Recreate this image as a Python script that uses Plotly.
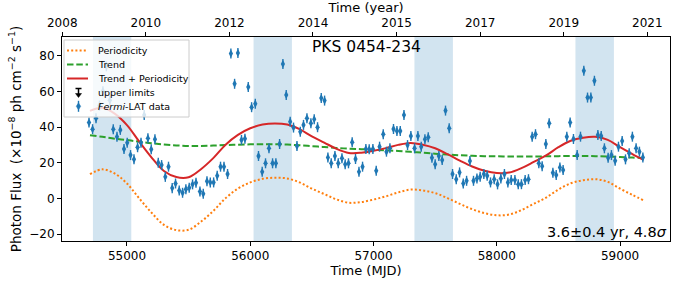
import plotly.graph_objects as go

# ---------------- data ----------------
mjd = [54692, 54721, 54749, 54777, 54805, 54833, 54861, 54889, 54919, 54946, 54976, 55002, 55029, 55057,
       55086, 55114, 55140, 55170, 55197, 55227, 55254, 55281, 55311, 55337, 55367, 55394, 55424,
       55451, 55478, 55505, 55532, 55560, 55592, 55619, 55649, 55676, 55703, 55732, 55759, 55787,
       55816, 55843, 55873, 55900, 55929, 55957, 55984, 56011, 56041, 56067, 56097, 56124, 56152,
       56181, 56208, 56238, 56265, 56292, 56324, 56351, 56379, 56406, 56432, 56460, 56492, 56519,
       56546, 56576, 56603, 56630, 56657, 56687, 56714, 56744, 56770, 56797, 56827, 56854, 56882,
       56911, 56938, 56965, 56995, 57022, 57049, 57079, 57105, 57133, 57162, 57190, 57217, 57247,
       57276, 57303, 57333, 57360, 57387, 57417, 57444, 57474, 57500, 57530, 57557, 57584, 57614,
       57641, 57671, 57698, 57728, 57755, 57782, 57811, 57839, 57865, 57895, 57922, 57949, 57979,
       58006, 58033, 58062, 58090, 58117, 58147, 58174, 58200, 58230, 58257, 58287, 58314, 58341,
       58368, 58398, 58425, 58455, 58482, 58512, 58538, 58568, 58595, 58622, 58652, 58679, 58706,
       58736, 58763, 58792, 58820, 58847, 58873, 58903, 58930, 58960, 58987, 59017, 59044, 59074,
       59100, 59130, 59157, 59185]
flux = [42.5, 38.8, 44.9, 52.0, 60.0, 74.0, 55.0, 38.8, 34.6, 38.4, 27.7, 31.2, 24.3, 21.9,
        28.7, 31.2, 46.8, 33.7, 27.5, 33.1, 20.0, 18.7, 12.1, 17.8, 5.8, 8.4, 4.5,
        3.2, 5.2, 6.0, 7.9, 8.8, 3.9, 2.6, 9.7, 9.0, 9.0, 12.7, 17.8, 17.8,
        13.7, 81.1, 64.2, 81.5, 32.8, 33.5, 62.4, 51.1, 53.0, 23.8, 14.9, 19.7, 28.1,
        19.7, 19.7, 30.5, 75.3, 58.0, 43.0, 39.7, 29.4, 37.4, 41.2, 44.9, 42.1, 44.4,
        39.9, 56.2, 54.8, 23.0, 19.7, 23.8, 19.7, 22.5, 19.1, 19.7, 31.5, 22.1, 14.9,
        17.8, 27.7, 27.5, 27.7, 15.5, 29.0, 36.0, 26.2, 28.1, 38.9, 37.8, 37.8, 46.8,
        29.9, 35.0, 28.1, 35.0, 29.0, 33.1, 34.3, 22.8, 19.1, 23.8, 21.5, 49.2, 39.3,
        13.7, 10.7, 14.6, 8.4, 9.9, 21.0, 9.9, 11.2, 12.1, 13.7, 12.7, 9.0, 10.8,
        7.9, 11.2, 13.7, 9.0, 10.3, 10.3, 8.0, 8.0, 10.3, 10.8, 34.6, 36.0, 19.7,
        18.1, 30.5, 42.1, 14.4, 13.1, 17.4, 15.9, 34.6, 42.5, 33.3, 24.3, 34.6, 71.5,
        56.5, 56.5, 65.9, 35.6, 35.0, 28.1, 22.8, 24.3, 21.1, 29.0, 32.2, 21.9, 25.3,
        34.6, 28.1, 26.2, 23.0]

model_mjd = [54700, 54800, 54900, 55000, 55100, 55200, 55300, 55400, 55500, 55600, 55700, 55800,
             55900, 56000, 56100, 56200, 56300, 56400, 56500, 56600, 56700, 56800, 56900, 57000,
             57100, 57200, 57300, 57400, 57500, 57600, 57700, 57800, 57900, 58000, 58100, 58200,
             58300, 58400, 58500, 58600, 58700, 58800, 58900, 59000, 59100, 59190]
periodicity = [13.6, 16.3, 14.0, 8.4, 0.0, -8.0, -14.8, -17.7, -17.5, -13.0, -7.0, 0.2,
               5.5, 9.0, 11.0, 11.6, 11.2, 9.0, 5.5, 2.5, -0.5, -2.4, -2.0, -0.6,
               1.2, 3.4, 5.0, 4.5, 3.0, 0.2, -3.0, -6.0, -8.2, -9.4, -9.0, -6.5,
               -3.0, 0.5, 5.0, 8.5, 10.2, 10.8, 9.3, 5.5, 2.0, -1.0]
trend = [35.4, 34.5, 33.5, 32.7, 31.8, 30.9, 30.2, 29.7, 29.4, 29.4, 29.6, 29.9,
         30.1, 30.3, 30.4, 30.4, 30.2, 29.8, 29.3, 28.8, 28.3, 27.9, 27.6, 27.3,
         27.0, 26.6, 26.1, 25.6, 25.1, 24.6, 24.2, 23.9, 23.7, 23.6, 23.5, 23.5,
         23.5, 23.6, 23.7, 23.8, 23.8, 23.7, 23.5, 23.2, 22.9, 22.6]
trend_plus_periodicity = [t + p for t, p in zip(trend, periodicity)]

band_start = [54724, 56027, 57332, 58638]
band_end = [55035, 56338, 57644, 58950]

mjd_ticks = [55000, 56000, 57000, 58000, 59000]
mjd_tick_text = ["55000", "56000", "57000", "58000", "59000"]
flux_ticks = [-20, 0, 20, 40, 60, 80]
year_tick_mjd = [54475, 55153, 55831, 56509, 57187, 57865, 58543, 59221]
year_tick_text = ["2008", "2010", "2012", "2014", "2015", "2017", "2019", "2021"]

legend_labels = ["Periodicity", "Trend", "Trend + Periodicity", "upper limits", "<i>Fermi</i>-LAT data"]

x_range = [54473, 59405]
y_range = [-23.8, 90.4]

# ---------------- style ----------------
BLUE = "#1f77b4"
ORANGE = "#ff7f0e"
GREEN = "#2ca02c"
RED = "#d62728"
DOT = "2px,2.2px"
DASH = "6.5px,2.8px"
FONT = "DejaVu Sans"
W, H = 676, 282
ML, MR, MT, MB = 62, 6, 37, 41
PW, PH = W - ML - MR, H - MT - MB


def px(xp):
    return (xp - ML) / PW


def py(yp):
    return 1 - (yp - MT) / PH


fig = go.Figure()

fig.add_trace(go.Scatter(x=model_mjd, y=periodicity, mode="lines", name="Periodicity",
                         line=dict(color=ORANGE, dash=DOT, width=2, shape="spline")))
fig.add_trace(go.Scatter(x=model_mjd, y=trend, mode="lines", name="Trend",
                         line=dict(color=GREEN, dash=DASH, width=2, shape="spline")))
fig.add_trace(go.Scatter(x=model_mjd, y=trend_plus_periodicity, mode="lines", name="Trend + Periodicity",
                         line=dict(color=RED, width=2, shape="spline")))
fig.add_trace(go.Scatter(x=mjd, y=flux, mode="markers", name="Fermi-LAT data",
                         marker=dict(symbol="diamond-tall", color=BLUE, size=6),
                         error_y=dict(type="constant", value=2.8, color=BLUE, thickness=1.4, width=0)))
# invisible trace anchoring the top year axis
fig.add_trace(go.Scatter(x=[x_range[0]], y=[None], xaxis="x2", hoverinfo="skip",
                         mode="markers", marker=dict(opacity=0)))

shapes = []
for s, e in zip(band_start, band_end):
    shapes.append(dict(type="rect", xref="x", yref="paper", x0=s, x1=e, y0=0, y1=1,
                       fillcolor="rgba(31,119,180,0.2)", line=dict(width=0), layer="below"))

# ---- hand-drawn legend box (matplotlib style) ----
lx0, lx1, ly0, ly1 = 64, 189, 40, 117
shapes.append(dict(type="rect", xref="paper", yref="paper", x0=px(lx0), x1=px(lx1),
                   y0=py(ly1), y1=py(ly0), fillcolor="rgba(255,255,255,0.8)",
                   line=dict(color="#cccccc", width=1), layer="above"))
rows = [50.5, 64.5, 78.5, 92.5, 106.3]
sx0, sx1, sxc, tx = 67, 88, 78.5, 96
for yy, col, dash in zip(rows[:3], [ORANGE, GREEN, RED], [DOT, DASH, "solid"]):
    shapes.append(dict(type="line", xref="paper", yref="paper", x0=px(sx0), x1=px(sx1),
                       y0=py(yy), y1=py(yy), line=dict(color=col, width=2, dash=dash), layer="above"))
# upper-limit symbol: bar + downward arrow
yu = rows[3]
shapes.append(dict(type="line", xref="paper", yref="paper", x0=px(sxc - 3), x1=px(sxc + 3),
                   y0=py(yu - 4), y1=py(yu - 4), line=dict(color="black", width=1.5), layer="above"))
shapes.append(dict(type="line", xref="paper", yref="paper", x0=px(sxc), x1=px(sxc),
                   y0=py(yu - 4), y1=py(yu + 2), line=dict(color="black", width=1.5), layer="above"))
shapes.append(dict(type="path", xref="paper", yref="paper",
                   path=f"M {px(sxc-3)},{py(yu+1)} L {px(sxc+3)},{py(yu+1)} L {px(sxc)},{py(yu+5)} Z",
                   fillcolor="black", line=dict(color="black", width=0.5), layer="above"))
# data symbol: error bar + diamond
yd = rows[4]
shapes.append(dict(type="line", xref="paper", yref="paper", x0=px(sxc), x1=px(sxc),
                   y0=py(yd - 5.5), y1=py(yd + 5.5), line=dict(color=BLUE, width=1.4), layer="above"))
shapes.append(dict(type="path", xref="paper", yref="paper",
                   path=(f"M {px(sxc)},{py(yd-3.5)} L {px(sxc+2.2)},{py(yd)} "
                         f"L {px(sxc)},{py(yd+3.5)} L {px(sxc-2.2)},{py(yd)} Z"),
                   fillcolor=BLUE, line=dict(color=BLUE, width=0.5), layer="above"))

annotations = []
for yy, lab in zip(rows, legend_labels):
    annotations.append(dict(text=lab, xref="paper", yref="paper", x=px(tx), y=py(yy),
                            xanchor="left", yanchor="middle", showarrow=False,
                            font=dict(family=FONT, size=9.5, color="black")))
annotations.append(dict(text="PKS 0454-234", xref="paper", yref="paper", x=0.50, y=py(47),
                        xanchor="center", yanchor="middle", showarrow=False,
                        font=dict(family=FONT, size=15.5, color="black")))
annotations.append(dict(text="3.6±0.4 yr, 4.8<i>σ</i>", xref="paper", yref="paper", x=px(669),
                        y=py(232), xanchor="right", yanchor="middle", showarrow=False,
                        font=dict(family=FONT, size=14.5, color="black")))

axis_common = dict(showline=True, linecolor="black", linewidth=1, ticks="outside", ticklen=4,
                   tickcolor="black", showgrid=False, zeroline=False, automargin=False,
                   tickfont=dict(family=FONT, size=12, color="black"))

fig.update_layout(
    width=W, height=H,
    margin=dict(l=ML, r=MR, t=MT, b=MB, autoexpand=False),
    paper_bgcolor="white", plot_bgcolor="white",
    font=dict(family=FONT, color="black"),
    showlegend=False,
    xaxis=dict(range=x_range, tickvals=mjd_ticks, ticktext=mjd_tick_text, mirror=True,
               title=dict(text="Time (MJD)", font=dict(size=13), standoff=3), **axis_common),
    xaxis2=dict(range=x_range, overlaying="x", side="top", tickvals=year_tick_mjd,
                ticktext=year_tick_text, title=dict(text="Time (year)", font=dict(size=13), standoff=1),
                **axis_common),
    yaxis=dict(range=y_range, tickvals=flux_ticks, mirror=True,
               title=dict(text="Photon Flux  (×10<sup>−8</sup> ph cm<sup>−2</sup> s<sup>−1</sup>)",
                          font=dict(size=13.5), standoff=4), **axis_common),
    shapes=shapes,
    annotations=annotations,
)

fig.write_html("out.html", config={"displayModeBar": False},
               post_script="document.body.style.margin='0px';document.body.style.overflow='hidden';")
